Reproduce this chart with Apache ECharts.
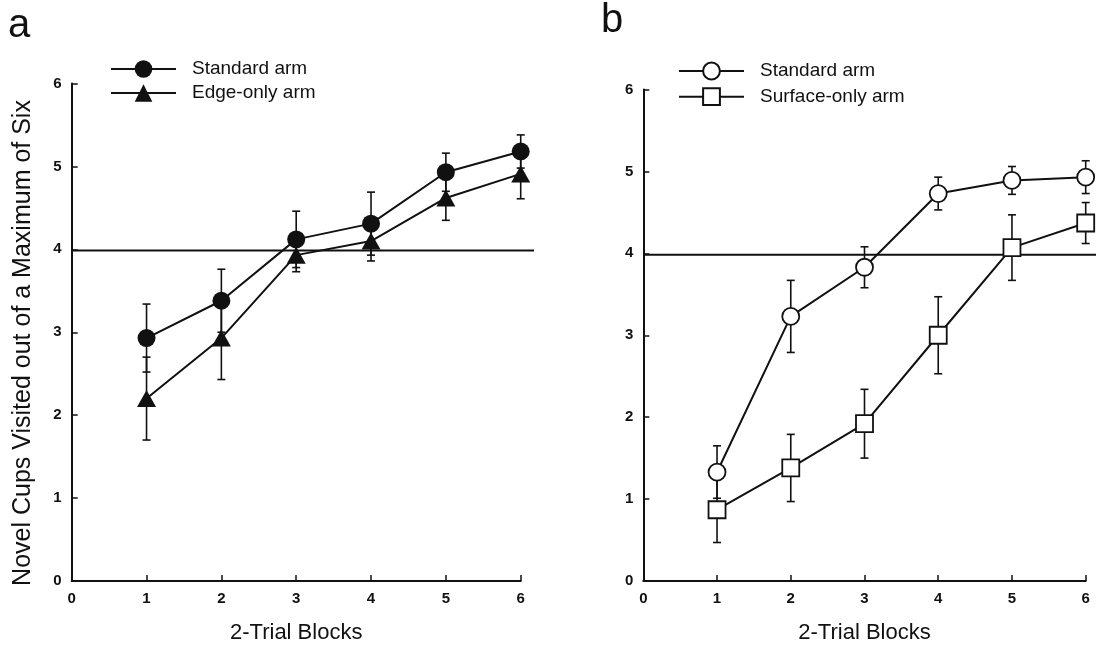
<!DOCTYPE html>
<html>
<head>
<meta charset="utf-8">
<script src="https://cdn.jsdelivr.net/npm/echarts@6/dist/echarts.min.js"></script>
<style>
  html, body { margin: 0; padding: 0; background: #fff; }
  #main { width: 1096px; height: 649px; }
</style>
</head>
<body>
<div id="main"></div>
<script>
// 横轴：2-Trial Blocks
const blocks = [1, 2, 3, 4, 5, 6]
// a 图
const standardA = [2.93, 3.38, 4.12, 4.31, 4.93, 5.18]
const standardAErr = [0.41, 0.38, 0.34, 0.38, 0.23, 0.2]
const edgeA = [2.2, 2.93, 3.93, 4.1, 4.62, 4.91]
const edgeAErr = [0.5, 0.5, 0.2, 0.24, 0.27, 0.3]
// b 图
const standardB = [1.33, 3.23, 3.83, 4.73, 4.89, 4.93]
const standardBErr = [0.32, 0.44, 0.25, 0.2, 0.17, 0.2]
const surfaceB = [0.87, 1.38, 1.92, 3.0, 4.07, 4.37]
const surfaceBErr = [0.4, 0.41, 0.42, 0.47, 0.4, 0.25]
// 参考线
const refLevel = 4
const refSpan = [0, 1]

const ink = '#111'
const font = '"Liberation Sans", Arial, Helvetica, sans-serif'

const myChart = echarts.init(document.getElementById('main'))

function pairs(ys) {
  return blocks.map((x, i) => [x, ys[i]])
}
function bars(ys, errs) {
  return blocks.map((x, i) => [x, ys[i] - errs[i], ys[i] + errs[i]])
}
// 误差线
function errorBar(params, api) {
  const x = api.value(0)
  const lo = api.coord([x, api.value(1)])
  const hi = api.coord([x, api.value(2)])
  const w = 4
  const style = { stroke: ink, lineWidth: 1.6 }
  return {
    type: 'group',
    children: [
      { type: 'line', shape: { x1: lo[0], y1: lo[1], x2: hi[0], y2: hi[1] }, style },
      { type: 'line', shape: { x1: hi[0] - w, y1: hi[1], x2: hi[0] + w, y2: hi[1] }, style },
      { type: 'line', shape: { x1: lo[0] - w, y1: lo[1], x2: lo[0] + w, y2: lo[1] }, style }
    ]
  }
}

function valueAxis(gridIndex, show) {
  return {
    gridIndex,
    type: 'value',
    min: 0,
    max: 6,
    interval: 1,
    show,
    axisLine: { show: true, lineStyle: { color: ink, width: 2 } },
    axisTick: { show: true, inside: true, length: 6, lineStyle: { color: ink, width: 1.5 } },
    axisLabel: { color: ink, fontWeight: 'bold', fontSize: 15, fontFamily: font, margin: 10 },
    splitLine: { show: false }
  }
}
function hiddenAxis(gridIndex, min, max) {
  return { gridIndex, type: 'value', min, max, show: false, splitLine: { show: false } }
}

function lineSeries(name, data, xi, symbol, size, fill) {
  return {
    name,
    type: 'line',
    xAxisIndex: xi,
    yAxisIndex: xi,
    data,
    symbol,
    symbolSize: size,
    z: 5,
    lineStyle: { color: ink, width: 2 },
    itemStyle: { color: fill, borderColor: ink, borderWidth: fill === '#fff' ? 1.8 : 0 }
  }
}
function barSeries(data, xi) {
  return {
    type: 'custom',
    xAxisIndex: xi,
    yAxisIndex: xi,
    renderItem: errorBar,
    encode: { x: 0, y: [1, 2] },
    data,
    z: 3
  }
}
function refSeries(xi) {
  return {
    type: 'line',
    xAxisIndex: xi,
    yAxisIndex: xi,
    data: refSpan.map(x => [x, refLevel]),
    symbol: 'none',
    lineStyle: { color: ink, width: 2 },
    z: 2
  }
}

const legendText = {
  'Standard arm': 'Standard arm',
  'Edge-only arm': 'Edge-only arm',
  'Standard arm b': 'Standard arm',
  'Surface-only arm': 'Surface-only arm'
}
function legend(left, top, names, h, gap) {
  return {
    left,
    top,
    orient: 'vertical',
    data: names,
    itemWidth: 65,
    itemHeight: h,
    itemGap: gap,
    selectedMode: false,
    formatter: name => legendText[name],
    textStyle: { color: ink, fontSize: 19, fontFamily: font, lineHeight: h, padding: [0, 0, 0, 11] }
  }
}

const option = {
  animation: false,
  backgroundColor: '#fff',
  grid: [
    { left: 71.7, top: 83.5, width: 449, height: 501 },
    { left: 643.3, top: 89.5, width: 442.4, height: 495.5 },
    // 参考线区域（比坐标轴略长）
    { left: 71.7, top: 83.5, width: 462.3, height: 501 },
    { left: 643.3, top: 89.5, width: 452.7, height: 495.5 }
  ],
  xAxis: [
    Object.assign(valueAxis(0, true), {
      name: '2-Trial Blocks', nameLocation: 'middle', nameGap: 41,
      nameTextStyle: { color: ink, fontSize: 22, fontFamily: font }
    }),
    Object.assign(valueAxis(1, true), {
      name: '2-Trial Blocks', nameLocation: 'middle', nameGap: 41,
      nameTextStyle: { color: ink, fontSize: 22, fontFamily: font }
    }),
    hiddenAxis(2, 0, 1),
    hiddenAxis(3, 0, 1)
  ],
  yAxis: [
    valueAxis(0, true),
    valueAxis(1, true),
    hiddenAxis(2, 0, 6),
    hiddenAxis(3, 0, 6)
  ],
  legend: [
    legend(105, 53, ['Standard arm', 'Edge-only arm'], 22, 2),
    legend(673, 55.5, ['Standard arm b', 'Surface-only arm'], 21, 4.7)
  ],
  graphic: [
    { type: 'text', left: 8, top: 6, style: { text: 'a', font: '40px ' + font, fill: ink } },
    { type: 'text', left: 601, top: 1, style: { text: 'b', font: '40px ' + font, fill: ink } },
    {
      type: 'text', x: 23, y: 343, rotation: Math.PI / 2,
      style: {
        text: 'Novel Cups Visited out of a Maximum of Six',
        font: '25px ' + font, fill: ink, align: 'center', verticalAlign: 'middle'
      }
    }
  ],
  series: [
    refSeries(2),
    refSeries(3),
    barSeries(bars(standardA, standardAErr), 0),
    barSeries(bars(edgeA, edgeAErr), 0),
    barSeries(bars(standardB, standardBErr), 1),
    barSeries(bars(surfaceB, surfaceBErr), 1),
    lineSeries('Standard arm', pairs(standardA), 0, 'circle', 18, ink),
    lineSeries('Edge-only arm', pairs(edgeA), 0, 'triangle', [19, 17], ink),
    lineSeries('Standard arm b', pairs(standardB), 1, 'circle', 17, '#fff'),
    lineSeries('Surface-only arm', pairs(surfaceB), 1, 'rect', 17, '#fff')
  ]
}
myChart.setOption(option)
</script>
</body>
</html>
